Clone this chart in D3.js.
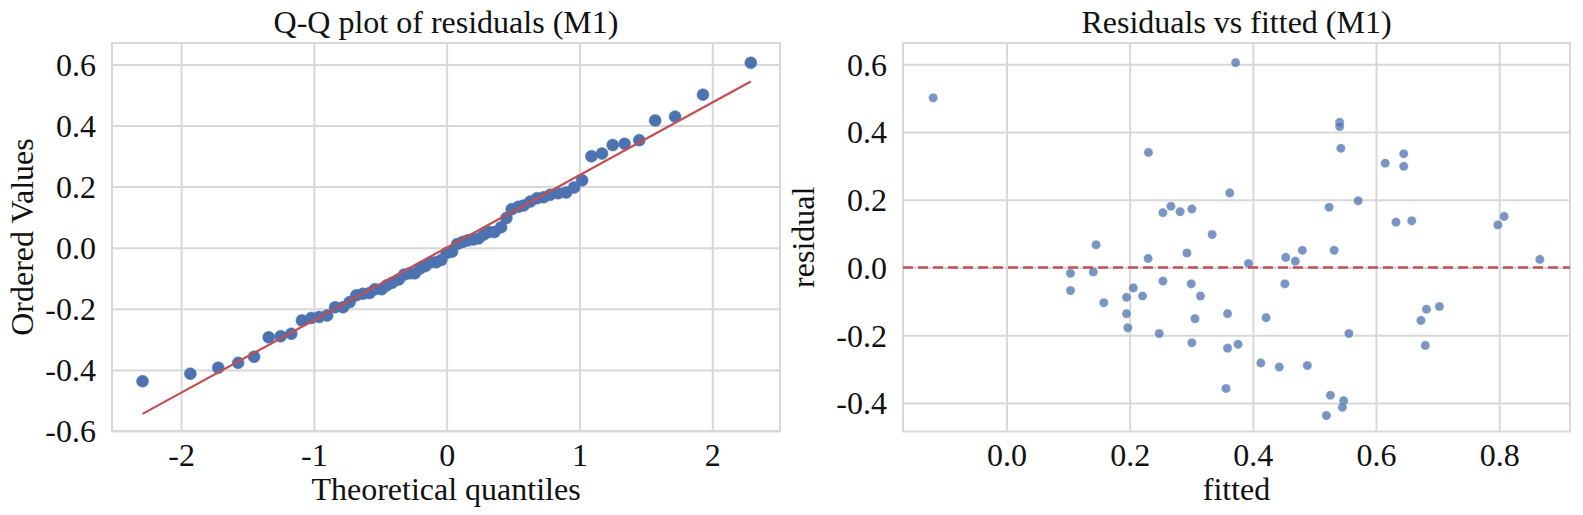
<!DOCTYPE html>
<html>
<head>
<meta charset="utf-8">
<script src="https://cdn.jsdelivr.net/npm/d3@7"></script>
<style>
  body { margin: 0; background: #fff; }
  text { font-family: "Liberation Serif", "Times New Roman", serif; fill: #111; }
</style>
</head>
<body>
<div id="chart"></div>
<script>
// theoretical normal quantiles (x of the Q-Q plot)
var qqTheoretical = [-2.29, -1.93, -1.72, -1.57, -1.45, -1.34, -1.25, -1.17, -1.09, -1.02,
  -0.96, -0.90, -0.84, -0.78, -0.73, -0.68, -0.63, -0.58, -0.54, -0.49, -0.45, -0.41,
  -0.36, -0.32, -0.28, -0.24, -0.20, -0.16, -0.12, -0.08, -0.04, 0.00, 0.04, 0.08, 0.12,
  0.16, 0.20, 0.24, 0.28, 0.32, 0.36, 0.41, 0.45, 0.49, 0.54, 0.58, 0.63, 0.68, 0.73,
  0.78, 0.84, 0.90, 0.96, 1.02, 1.09, 1.17, 1.25, 1.34, 1.45, 1.57, 1.72, 1.93, 2.29];

// ordered residuals (y of the Q-Q plot)
var qqOrdered = [-0.437, -0.4125, -0.393, -0.377, -0.357, -0.2935, -0.2895, -0.2815, -0.238,
  -0.230, -0.2265, -0.222, -0.195, -0.195, -0.178, -0.156, -0.151, -0.148, -0.136, -0.136,
  -0.123, -0.115, -0.104, -0.088, -0.084, -0.084, -0.068, -0.060, -0.048, -0.048, -0.040,
  -0.017, -0.013, 0.012, 0.019, 0.024, 0.027, 0.030, 0.043, 0.051, 0.051, 0.067, 0.0975,
  0.126, 0.134, 0.138, 0.151, 0.162, 0.165, 0.173, 0.178, 0.181, 0.197, 0.2205, 0.299,
  0.308, 0.336, 0.340, 0.352, 0.4165, 0.429, 0.501, 0.605];

// reference line of the Q-Q plot
var qqLineSlope = 0.2375;
var qqLineIntercept = 0.0;

// residuals vs fitted
var fitted = [-0.119, 0.2305, 0.254, 0.267, 0.282, 0.301, 0.334, 0.1455, 0.293, 0.230,
  0.104, 0.141, 0.104, 0.254, 0.300, 0.206, 0.158, 0.195, 0.221, 0.315, 0.195, 0.306,
  0.197, 0.248, 0.301, 0.372, 0.541, 0.541, 0.543, 0.645, 0.615, 0.645, 0.3625, 0.571,
  0.524, 0.6325, 0.658, 0.798, 0.808, 0.4805, 0.532, 0.4535, 0.469, 0.393, 0.866, 0.452,
  0.359, 0.4215, 0.682, 0.703, 0.673, 0.556, 0.680, 0.359, 0.376, 0.413, 0.443, 0.4885,
  0.3565, 0.526, 0.5475, 0.5455, 0.5195];
var residual = [0.501, 0.340, 0.162, 0.181, 0.165, 0.173, 0.0975, 0.067, 0.043, 0.027,
  -0.017, -0.013, -0.068, -0.040, -0.048, -0.060, -0.104, -0.088, -0.084, -0.084, -0.136,
  -0.151, -0.178, -0.195, -0.222, 0.605, 0.429, 0.4165, 0.352, 0.336, 0.308, 0.299, 0.2205,
  0.197, 0.178, 0.134, 0.138, 0.126, 0.151, 0.051, 0.051, 0.030, 0.019, 0.012, 0.024,
  -0.048, -0.136, -0.148, -0.123, -0.115, -0.156, -0.195, -0.230, -0.238, -0.2265,
  -0.2815, -0.2935, -0.2895, -0.357, -0.377, -0.393, -0.4125, -0.437];

var qqXTicks = [-2, -1, 0, 1, 2];
var qqYTicks = [-0.6, -0.4, -0.2, 0.0, 0.2, 0.4, 0.6];
var rvXTicks = [0.0, 0.2, 0.4, 0.6, 0.8];
var rvYTicks = [-0.4, -0.2, 0.0, 0.2, 0.4, 0.6];

var blue = "#4C72B0", red = "#C44E52", gridColor = "#d8d8d8";

var svg = d3.select("#chart").append("svg")
    .attr("width", 1583)
    .attr("height", 515);

function panel(opts) {
    var x = d3.scaleLinear().domain(opts.xDomain).range([opts.left, opts.right]);
    var y = d3.scaleLinear().domain(opts.yDomain).range([opts.bottom, opts.top]);
    var g = svg.append("g");

    // grid
    g.append("g")
        .attr("transform", "translate(0," + opts.bottom + ")")
        .call(d3.axisBottom(x).tickValues(opts.xTicks).tickSize(-(opts.bottom - opts.top)).tickFormat(""))
        .call(function(a) { a.select(".domain").remove(); })
        .selectAll("line").attr("stroke", gridColor).attr("stroke-width", 2);
    g.append("g")
        .attr("transform", "translate(" + opts.left + ",0)")
        .call(d3.axisLeft(y).tickValues(opts.yTicks).tickSize(-(opts.right - opts.left)).tickFormat(""))
        .call(function(a) { a.select(".domain").remove(); })
        .selectAll("line").attr("stroke", gridColor).attr("stroke-width", 2);

    // frame
    g.append("rect")
        .attr("x", opts.left).attr("y", opts.top)
        .attr("width", opts.right - opts.left)
        .attr("height", opts.bottom - opts.top)
        .attr("fill", "none")
        .attr("stroke", gridColor)
        .attr("stroke-width", 2);

    // tick labels
    var xAx = g.append("g")
        .attr("transform", "translate(0," + opts.bottom + ")")
        .call(d3.axisBottom(x).tickValues(opts.xTicks).tickSize(0).tickPadding(12)
            .tickFormat(opts.xFormat));
    var yAx = g.append("g")
        .attr("transform", "translate(" + opts.left + ",0)")
        .call(d3.axisLeft(y).tickValues(opts.yTicks).tickSize(0).tickPadding(16)
            .tickFormat(function(d) { return d.toFixed(1); }));
    [xAx, yAx].forEach(function(a) {
        a.select(".domain").remove();
        a.selectAll("text")
            .attr("font-family", "Liberation Serif, serif")
            .attr("font-size", 32)
            .attr("fill", "#111");
    });
    xAx.selectAll("text").attr("dy", "0.71em");
    yAx.selectAll("text").attr("dy", "0.34em");

    // title and labels
    svg.append("text")
        .attr("x", (opts.left + opts.right) / 2)
        .attr("y", 33)
        .attr("text-anchor", "middle")
        .attr("font-size", 32)
        .text(opts.title);
    svg.append("text")
        .attr("x", (opts.left + opts.right) / 2)
        .attr("y", 500)
        .attr("text-anchor", "middle")
        .attr("font-size", 32)
        .text(opts.xLabel);
    svg.append("text")
        .attr("transform", "translate(" + opts.yLabelX + "," + (opts.top + opts.bottom) / 2 + ") rotate(-90)")
        .attr("text-anchor", "middle")
        .attr("font-size", 32)
        .text(opts.yLabel);

    return { g: g, x: x, y: y };
}

// left: Q-Q plot
var qq = panel({
    left: 112, right: 780, top: 43, bottom: 431,
    xDomain: [-2.52, 2.51], yDomain: [-0.6, 0.67],
    xTicks: qqXTicks, yTicks: qqYTicks,
    xFormat: function(d) { return String(d); },
    title: "Q-Q plot of residuals (M1)",
    xLabel: "Theoretical quantiles",
    yLabel: "Ordered Values",
    yLabelX: 33
});

qq.g.selectAll("circle.qq")
    .data(qqTheoretical)
    .enter()
    .append("circle")
    .attr("class", "qq")
    .attr("cx", function(d) { return qq.x(d); })
    .attr("cy", function(d, i) { return qq.y(qqOrdered[i]); })
    .attr("r", 6)
    .attr("fill", blue)
    .attr("stroke", blue)
    .attr("stroke-width", 0.5);

var qqEnds = [qqTheoretical[0], qqTheoretical[qqTheoretical.length - 1]];
qq.g.append("path")
    .datum(qqEnds)
    .attr("fill", "none")
    .attr("stroke", red)
    .attr("stroke-width", 2.2)
    .attr("d", d3.line()
        .x(function(d) { return qq.x(d); })
        .y(function(d) { return qq.y(qqLineSlope * d + qqLineIntercept); }));

// right: residuals vs fitted
var rv = panel({
    left: 903, right: 1570, top: 43, bottom: 431.5,
    xDomain: [-0.168, 0.915], yDomain: [-0.484, 0.663],
    xTicks: rvXTicks, yTicks: rvYTicks,
    xFormat: function(d) { return d.toFixed(1); },
    title: "Residuals vs fitted (M1)",
    xLabel: "fitted",
    yLabel: "residual",
    yLabelX: 814
});

rv.g.selectAll("circle.rv")
    .data(fitted)
    .enter()
    .append("circle")
    .attr("class", "rv")
    .attr("cx", function(d) { return rv.x(d); })
    .attr("cy", function(d, i) { return rv.y(residual[i]); })
    .attr("r", 4.6)
    .attr("fill", blue)
    .attr("fill-opacity", 0.75)
    .attr("stroke", "#fff")
    .attr("stroke-opacity", 0.5)
    .attr("stroke-width", 0.6);

rv.g.append("line")
    .attr("x1", rv.x.range()[0])
    .attr("x2", rv.x.range()[1])
    .attr("y1", rv.y(0))
    .attr("y2", rv.y(0))
    .attr("stroke", red)
    .attr("stroke-width", 2.5)
    .attr("stroke-dasharray", "10,5");
</script>
</body>
</html>
